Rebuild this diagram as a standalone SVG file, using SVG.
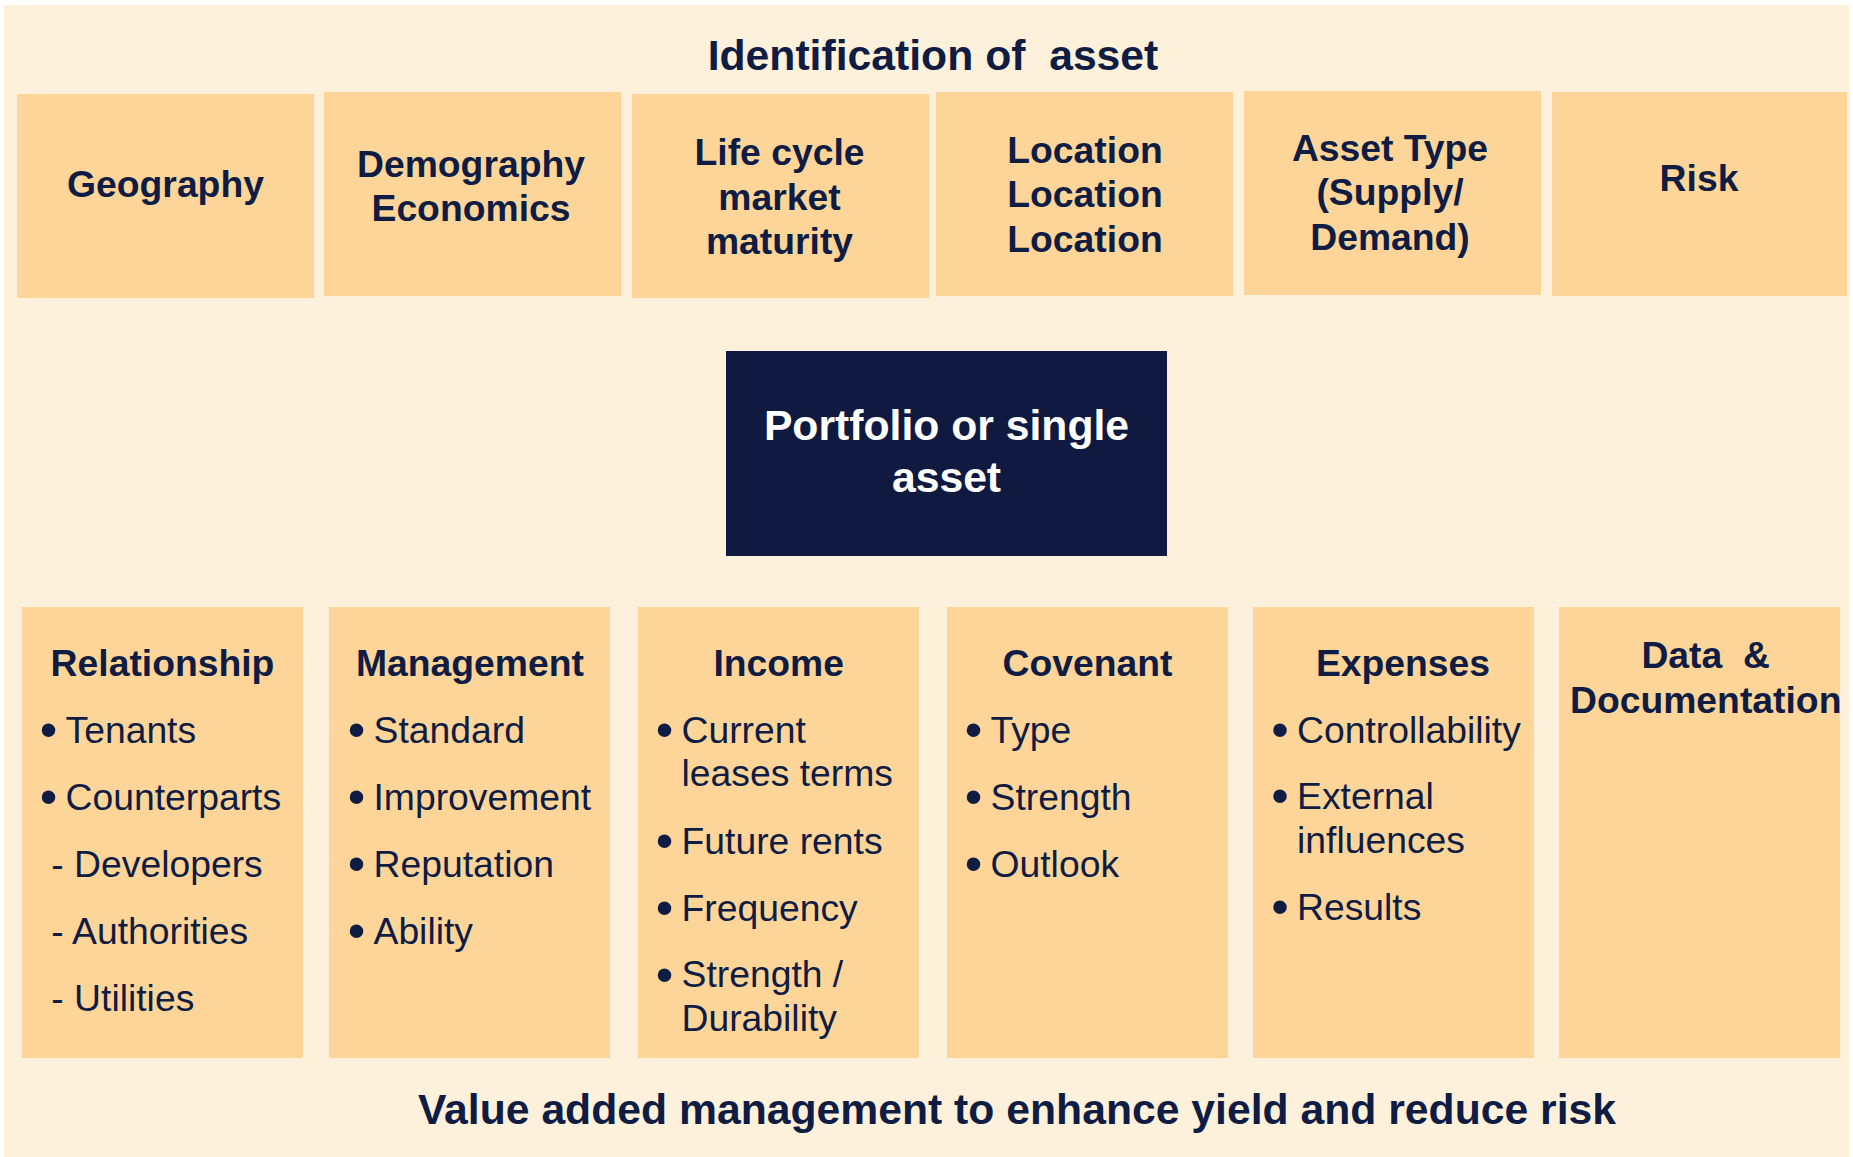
<svg xmlns="http://www.w3.org/2000/svg" width="1853" height="1157" viewBox="0 0 1853 1157">
<style>
text{font-family:"Liberation Sans",Arial,sans-serif;fill:#0F1C44}
.box{fill:#FDD598}
.lbl{font-size:37.3px;font-weight:bold;text-anchor:middle}
.big{font-size:42.7px;font-weight:bold;text-anchor:middle}
.item{font-size:37.3px}
.bul{font-size:50px;text-anchor:middle}
.white{fill:#FFFFFF}
</style>
<rect x="0" y="0" width="1853" height="1157" fill="#FFFFFF"/>
<rect x="4" y="5" width="1845" height="1152" fill="#FEF1DB"/>
<text id="title" class="big" x="933" y="69.5" xml:space="preserve">Identification of  asset</text>
<g id="geography"><rect class="box" x="17" y="94" width="297" height="204"/><text class="lbl" x="165.5" y="197">Geography</text></g>
<g id="demography"><rect class="box" x="324" y="92" width="297" height="204"/><text class="lbl" x="471" y="176.7">Demography</text><text class="lbl" x="471" y="220.7">Economics</text></g>
<g id="lifecycle"><rect class="box" x="632" y="94" width="297" height="204"/><text class="lbl" x="779.5" y="165">Life cycle</text><text class="lbl" x="779.5" y="209.5">market</text><text class="lbl" x="779.5" y="254">maturity</text></g>
<g id="location"><rect class="box" x="936" y="92" width="297" height="204"/><text class="lbl" x="1085" y="163">Location</text><text class="lbl" x="1085" y="207.3">Location</text><text class="lbl" x="1085" y="251.6">Location</text></g>
<g id="assettype"><rect class="box" x="1244" y="91" width="297" height="204"/><text class="lbl" x="1390" y="160.7">Asset Type</text><text class="lbl" x="1390" y="205.3">(Supply/</text><text class="lbl" x="1390" y="250">Demand)</text></g>
<g id="risk"><rect class="box" x="1552" y="92" width="295" height="204"/><text class="lbl" x="1699" y="190.7">Risk</text></g>
<g id="portfolio"><rect x="726" y="351" width="441" height="205" fill="#101A41"/><text class="big white" x="946.5" y="440">Portfolio or single</text><text class="big white" x="946.5" y="492">asset</text></g>
<g id="relationship"><rect class="box" x="22" y="607" width="281" height="451"/>
<text class="lbl" x="162.5" y="676">Relationship</text>
<text class="bul" x="48.5" y="747">•</text><text class="item" x="65.5" y="742.5">Tenants</text>
<text class="bul" x="48.5" y="814">•</text><text class="item" x="65.5" y="809.5">Counterparts</text>
<text class="item" x="51.3" y="876.5">- Developers</text>
<text class="item" x="51.3" y="943.5">- Authorities</text>
<text class="item" x="51.3" y="1010.5">- Utilities</text></g>
<g id="management"><rect class="box" x="329" y="607" width="281" height="451"/>
<text class="lbl" x="470" y="676">Management</text>
<text class="bul" x="356.5" y="747">•</text><text class="item" x="373.5" y="742.5">Standard</text>
<text class="bul" x="356.5" y="814">•</text><text class="item" x="373.5" y="809.5">Improvement</text>
<text class="bul" x="356.5" y="881">•</text><text class="item" x="373.5" y="876.5">Reputation</text>
<text class="bul" x="356.5" y="948">•</text><text class="item" x="373.5" y="943.5">Ability</text></g>
<g id="income"><rect class="box" x="638" y="607" width="281" height="451"/>
<text class="lbl" x="778.7" y="676">Income</text>
<text class="bul" x="664.5" y="747">•</text><text class="item" x="681.5" y="742.5">Current</text>
<text class="item" x="681.5" y="786">leases terms</text>
<text class="bul" x="664.5" y="858">•</text><text class="item" x="681.5" y="853.5">Future rents</text>
<text class="bul" x="664.5" y="925">•</text><text class="item" x="681.5" y="920.5">Frequency</text>
<text class="bul" x="664.5" y="991.5">•</text><text class="item" x="681.5" y="987">Strength /</text>
<text class="item" x="681.5" y="1031">Durability</text></g>
<g id="covenant"><rect class="box" x="947" y="607" width="281" height="451"/>
<text class="lbl" x="1087.5" y="676">Covenant</text>
<text class="bul" x="973.5" y="747">•</text><text class="item" x="990.5" y="742.5">Type</text>
<text class="bul" x="973.5" y="814">•</text><text class="item" x="990.5" y="809.5">Strength</text>
<text class="bul" x="973.5" y="881">•</text><text class="item" x="990.5" y="876.5">Outlook</text></g>
<g id="expenses"><rect class="box" x="1253" y="607" width="281" height="451"/>
<text class="lbl" x="1403" y="676">Expenses</text>
<text class="bul" x="1280" y="747">•</text><text class="item" x="1297" y="742.5">Controllability</text>
<text class="bul" x="1280" y="813">•</text><text class="item" x="1297" y="808.5">External</text>
<text class="item" x="1297" y="852.5">influences</text>
<text class="bul" x="1280" y="924">•</text><text class="item" x="1297" y="919.5">Results</text></g>
<g id="data"><rect class="box" x="1559" y="607" width="281" height="451"/>
<text class="lbl" x="1705.7" y="668.3" xml:space="preserve">Data  &amp;</text>
<text class="lbl" x="1705.7" y="712.5">Documentation</text></g>
<text id="footer" class="big" x="1017" y="1124">Value added management to enhance yield and reduce risk</text>
<g id="connectors"/>
</svg>
